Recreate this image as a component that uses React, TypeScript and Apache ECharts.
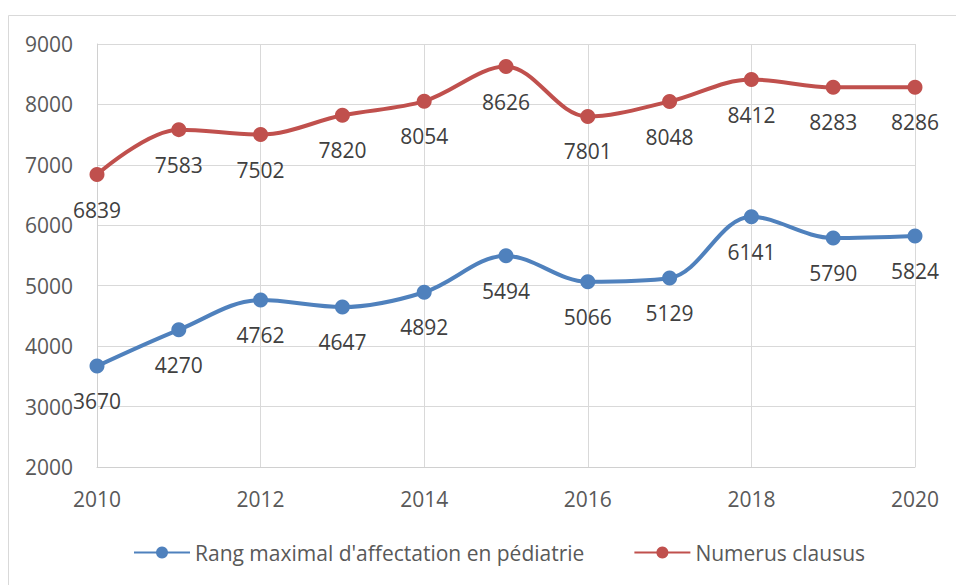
import React, { useEffect, useRef } from "react";
import * as echarts from "echarts";

const years = [2010, 2011, 2012, 2013, 2014, 2015, 2016, 2017, 2018, 2019, 2020];
const rangMaximal = [3670, 4270, 4762, 4647, 4892, 5494, 5066, 5129, 6141, 5790, 5824];
const numerusClausus = [6839, 7583, 7502, 7820, 8054, 8626, 7801, 8048, 8412, 8283, 8286];
const seriesNames = ["Rang maximal d'affectation en pédiatrie", "Numerus clausus"];

const FONT = "'Open Sans', 'Noto Sans', sans-serif";

export default function App() {
  const ref = useRef<HTMLDivElement>(null);
  useEffect(() => {
    const chart = echarts.init(ref.current!, null, { renderer: "svg" });
    const mk = (vals: number[]) => years.map((y, i) => [y, vals[i]]);
    const label = {
      show: true,
      position: "bottom",
      distance: 17,
      fontSize: 21,
      fontFamily: FONT,
      color: "#404040",
    };
    chart.setOption({
      animation: false,
      backgroundColor: "#ffffff",
      graphic: [
        {
          type: "rect",
          shape: { x: 8.5, y: 15.5, width: 1000, height: 700 },
          style: { fill: "none", stroke: "#d9d9d9", lineWidth: 1 },
          silent: true,
          z: -1,
        },
      ],
      grid: { left: 97, right: 41, top: 44, bottom: 118, containLabel: false },
      xAxis: {
        type: "value",
        min: 2010,
        max: 2020,
        interval: 2,
        axisLine: { show: true, lineStyle: { color: "#d0d0d0", width: 1 } },
        axisTick: { show: false },
        splitLine: { show: true, lineStyle: { color: "#d9d9d9", width: 1 } },
        axisLabel: {
          margin: 21,
          fontSize: 21,
          fontFamily: FONT,
          color: "#595959",
          formatter: (v: number) => String(v),
        },
      },
      yAxis: {
        type: "value",
        min: 2000,
        max: 9000,
        interval: 1000,
        axisLine: { show: true, lineStyle: { color: "#d0d0d0", width: 1 } },
        axisTick: { show: false },
        splitLine: { show: true, lineStyle: { color: "#d9d9d9", width: 1 } },
        axisLabel: {
          margin: 24,
          fontSize: 21,
          fontFamily: FONT,
          color: "#595959",
          formatter: (v: number) => String(v),
        },
      },
      legend: {
        bottom: 17,
        left: 128,
        itemWidth: 56,
        itemHeight: 15,
        itemGap: 49,
        textStyle: { fontSize: 21, fontFamily: FONT, color: "#595959" },
        data: seriesNames,
      },
      series: [
        {
          name: seriesNames[0],
          type: "line",
          data: mk(rangMaximal),
          smooth: 0.35,
          symbol: "circle",
          symbolSize: 15,
          color: "#4F81BD",
          lineStyle: { width: 4, color: "#4F81BD" },
          itemStyle: { color: "#4F81BD" },
          label,
        },
        {
          name: seriesNames[1],
          type: "line",
          data: mk(numerusClausus),
          smooth: 0.35,
          symbol: "circle",
          symbolSize: 15,
          color: "#C0504D",
          lineStyle: { width: 4, color: "#C0504D" },
          itemStyle: { color: "#C0504D" },
          label,
        },
      ],
    });
    return () => chart.dispose();
  }, []);
  return (
    <div
      ref={ref}
      style={{ position: "fixed", left: 0, top: 0, width: 956, height: 585 }}
    />
  );
}
